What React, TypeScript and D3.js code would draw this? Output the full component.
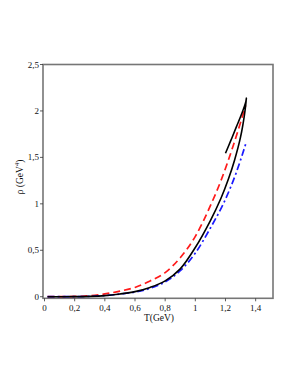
import React, { useEffect, useRef } from "react";
import * as d3 from "d3";

// temperature (GeV) and energy density (GeV^4)
const blackT = [0.02, 0.2, 0.3, 0.4, 0.5, 0.6, 0.7, 0.8, 0.9, 1.0, 1.1, 1.17, 1.22, 1.26, 1.3, 1.325, 1.339, 1.335, 1.31, 1.27, 1.235, 1.2];
const blackRho = [0, 0.001, 0.004, 0.012, 0.03, 0.055, 0.1, 0.17, 0.3, 0.53, 0.82, 1.06, 1.27, 1.47, 1.72, 1.95, 2.14, 2.1, 1.98, 1.82, 1.68, 1.545];

const redT = [0.02, 0.2, 0.3, 0.4, 0.5, 0.6, 0.7, 0.8, 0.9, 1.0, 1.1, 1.17, 1.25, 1.334];
const redRho = [0, 0.003, 0.01, 0.03, 0.06, 0.1, 0.17, 0.26, 0.42, 0.65, 0.98, 1.25, 1.62, 2.06];

const blueT = [0.02, 0.2, 0.3, 0.4, 0.5, 0.6, 0.7, 0.8, 0.9, 1.0, 1.1, 1.2, 1.27, 1.339];
const blueRho = [0, 0.001, 0.004, 0.012, 0.028, 0.05, 0.09, 0.16, 0.28, 0.47, 0.74, 1.05, 1.33, 1.67];

const xTicks = [0, 0.2, 0.4, 0.6, 0.8, 1, 1.2, 1.4];
const yTicks = [0, 0.5, 1, 1.5, 2, 2.5];

const fmt = (v: number) => String(v).replace(".", ",");

const App = () => {
  const ref = useRef<SVGSVGElement>(null);

  useEffect(() => {
    const svg = d3.select(ref.current);
    svg.selectAll("*").remove();

    const x = d3.scaleLinear().domain([-0.01, 1.515]).range([43, 273]);
    const y = d3.scaleLinear().domain([-0.017, 2.5]).range([298.3, 64.5]);
    const [x0, x1] = x.range();
    const [y0, y1] = y.range();
    const axisColor = "#767676";
    const font = "'Liberation Serif', 'Times New Roman', serif";

    // frame
    svg.append("rect")
      .attr("x", x0).attr("y", y1)
      .attr("width", x1 - x0).attr("height", y0 - y1)
      .attr("fill", "none").attr("stroke", axisColor).attr("stroke-width", 1.6);

    // curves
    const line = d3.line<[number, number]>()
      .x((d) => x(d[0])).y((d) => y(d[1]));

    const zip = (a: number[], b: number[]) => a.map((v, i) => [v, b[i]] as [number, number]);

    svg.append("path")
      .attr("d", line.curve(d3.curveMonotoneX)(zip(redT, redRho)))
      .attr("fill", "none").attr("stroke", "#ff1a1a").attr("stroke-width", 1.7)
      .attr("stroke-dasharray", "7,4");

    svg.append("path")
      .attr("d", line.curve(d3.curveMonotoneX)(zip(blueT, blueRho)))
      .attr("fill", "none").attr("stroke", "#1a1aff").attr("stroke-width", 1.7)
      .attr("stroke-dasharray", "7,3,2,3");

    svg.append("path")
      .attr("d", line.curve(d3.curveCatmullRom.alpha(0.5))(zip(blackT, blackRho)))
      .attr("fill", "none").attr("stroke", "#000").attr("stroke-width", 1.6);

    // ticks and labels
    const xt = svg.append("g");
    xTicks.forEach((t) => {
      xt.append("line").attr("x1", x(t)).attr("x2", x(t)).attr("y1", y0).attr("y2", y0 + 3)
        .attr("stroke", "#333").attr("stroke-width", 0.8);
      xt.append("text").attr("x", x(t)).attr("y", y0 + 13)
        .attr("text-anchor", "middle").attr("font-family", font).attr("font-size", 9)
        .attr("fill", "#111").text(fmt(t));
    });

    const yt = svg.append("g");
    yTicks.forEach((t) => {
      yt.append("line").attr("x1", x0 - 3).attr("x2", x0).attr("y1", y(t)).attr("y2", y(t))
        .attr("stroke", "#333").attr("stroke-width", 0.8);
      yt.append("text").attr("x", x0 - 4).attr("y", y(t) + 3)
        .attr("text-anchor", "end").attr("font-family", font).attr("font-size", 9)
        .attr("fill", "#111").text(fmt(t));
    });

    svg.append("text").attr("x", 159).attr("y", 321)
      .attr("text-anchor", "middle").attr("font-family", font).attr("font-size", 9.5)
      .attr("fill", "#111").text("T(GeV)");

    const yl = svg.append("text")
      .attr("transform", "translate(23,177) rotate(-90)")
      .attr("text-anchor", "middle").attr("font-family", font).attr("font-size", 9.5)
      .attr("fill", "#111");
    yl.append("tspan").text("ρ (GeV");
    yl.append("tspan").attr("dy", -4).attr("font-size", 6.5).text("4");
    yl.append("tspan").attr("dy", 4).text(")");
  }, []);

  return (
    <svg ref={ref} width={295} height={382}
      style={{ position: "absolute", left: 0, top: 0, background: "#fff" }} />
  );
};

export default App;
